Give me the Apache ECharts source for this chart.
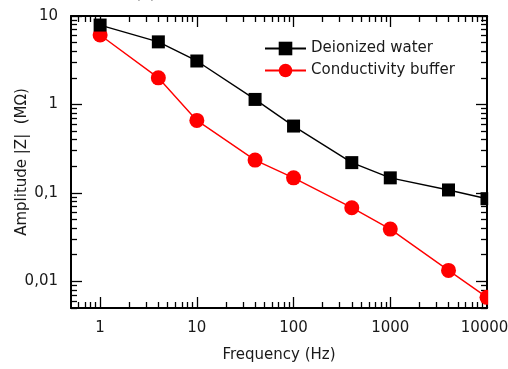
<!DOCTYPE html>
<html>
<head>
<meta charset="utf-8">
<script src="https://cdn.jsdelivr.net/npm/echarts@6/dist/echarts.min.js"></script>
<style>
  html, body { margin: 0; padding: 0; background: #fff; }
  #chart { width: 508px; height: 369px; }
</style>
</head>
<body>
<div id="chart"></div>
<script>
// Impedance amplitude vs frequency for two media
const frequencies = [1, 4, 10, 40, 100, 400, 1000, 4000, 10000];
const deionizedWater = [7.9, 5.1, 3.1, 1.14, 0.57, 0.22, 0.148, 0.108, 0.086];
const conductivityBuffer = [6.1, 2.0, 0.66, 0.235, 0.148, 0.068, 0.039, 0.0133, 0.0066];

const xMajorTicks = [1, 10, 100, 1000, 10000];
const xMinorTicks = [0.6, 0.7, 0.8, 0.9,
  2, 3, 4, 5, 6, 7, 8, 9,
  20, 30, 40, 50, 60, 70, 80, 90,
  200, 300, 400, 500, 600, 700, 800, 900,
  2000, 3000, 4000, 5000, 6000, 7000, 8000, 9000];
const yMajorTicks = [0.01, 0.1, 1, 10];
const yMinorTicks = [0.005, 0.006, 0.007, 0.008, 0.009,
  0.02, 0.03, 0.04, 0.05, 0.06, 0.07, 0.08, 0.09,
  0.2, 0.3, 0.4, 0.5, 0.6, 0.7, 0.8, 0.9,
  2, 3, 4, 5, 6, 7, 8, 9];

const FONT = 'DejaVu Sans';
const INK = '#1a1a1a';

function decimalComma(v) {
  return String(v).replace('.', ',');
}

// the last x label sits at the page edge, so nudge it inward a little
function xLabel(v) {
  return v === xMajorTicks[xMajorTicks.length - 1] ? '{edge|' + v + '}' : String(v);
}

function logAxis(pos, min, max, ticks, len, opts) {
  return Object.assign({
    type: 'log',
    logBase: 10,
    position: pos,
    min: min,
    max: max,
    splitLine: { show: false },
    axisLine: { show: false },
    axisTick: { show: true, inside: true, length: len, customValues: ticks,
      lineStyle: { color: '#000', width: 1.3 } },
    axisLabel: { show: false }
  }, opts || {});
}

const xMain = logAxis('bottom', 0.5, 10000, xMajorTicks, 11, {
  axisLine: { show: true, onZero: false, lineStyle: { color: '#000', width: 2 } },
  axisLabel: { show: true, customValues: xMajorTicks, margin: 13,
    fontFamily: FONT, fontSize: 15, color: INK, formatter: xLabel,
    rich: { edge: { fontFamily: FONT, fontSize: 15, color: INK, padding: [0, 5, 0, 0] } } },
  name: 'Frequency (Hz)',
  nameLocation: 'middle',
  nameGap: 40,
  nameMoveOverlap: false,
  nameTextStyle: { fontFamily: FONT, fontSize: 15, color: INK }
});

const yMain = logAxis('left', 0.005, 10, yMajorTicks, 11, {
  axisLine: { show: true, onZero: false, lineStyle: { color: '#000', width: 2 } },
  axisLabel: { show: true, customValues: yMajorTicks, margin: 13,
    fontFamily: FONT, fontSize: 15, color: INK, formatter: decimalComma },
  name: 'Amplitude |Z|  (MΩ)',
  nameLocation: 'middle',
  nameGap: 41,
  nameMoveOverlap: false,
  nameTextStyle: { fontFamily: FONT, fontSize: 15, color: INK }
});

const frame = { show: true, onZero: false, lineStyle: { color: '#000', width: 2 } };

const chart = echarts.init(document.getElementById('chart'), null, { renderer: 'canvas' });

chart.setOption({
  animation: false,
  backgroundColor: '#fff',
  grid: { left: 71, top: 16, width: 416, height: 292, containLabel: false, outerBoundsMode: 'none' },
  xAxis: [
    xMain,
    logAxis('bottom', 0.5, 10000, xMinorTicks, 6),
    logAxis('top', 0.5, 10000, xMajorTicks, 11, { axisLine: frame }),
    logAxis('top', 0.5, 10000, xMinorTicks, 6)
  ],
  yAxis: [
    yMain,
    logAxis('left', 0.005, 10, yMinorTicks, 6),
    logAxis('right', 0.005, 10, yMajorTicks, 11, { axisLine: frame }),
    logAxis('right', 0.005, 10, yMinorTicks, 6)
  ],
  legend: {
    left: 259,
    top: 36,
    orient: 'vertical',
    itemWidth: 41,
    itemHeight: 17,
    itemGap: 7,
    textStyle: { fontFamily: FONT, fontSize: 15, color: INK },
    data: ['Deionized water', 'Conductivity buffer']
  },
  graphic: [
    {
      type: 'text',
      left: 135,
      top: -13,
      style: { text: '(a)', font: '15px "DejaVu Sans"', fill: INK }
    },
    {
      type: 'rect',
      z: 100,
      shape: { x: 488.2, y: 17, width: 30, height: 290 },
      style: { fill: '#fff' }
    }
  ],
  series: [
    {
      name: 'Deionized water',
      type: 'line',
      xAxisIndex: 0,
      yAxisIndex: 0,
      data: frequencies.map((f, i) => [f, deionizedWater[i]]),
      symbol: 'rect',
      symbolSize: 13,
      color: '#000',
      itemStyle: { color: '#000' },
      lineStyle: { color: '#000', width: 1.4 },
      clip: false,
      z: 3
    },
    {
      name: 'Conductivity buffer',
      type: 'line',
      xAxisIndex: 0,
      yAxisIndex: 0,
      data: frequencies.map((f, i) => [f, conductivityBuffer[i]]),
      symbol: 'circle',
      symbolSize: 15,
      color: '#ff0000',
      itemStyle: { color: '#ff0000' },
      lineStyle: { color: '#ff0000', width: 1.4 },
      clip: false,
      z: 2
    }
  ]
});
</script>
</body>
</html>
